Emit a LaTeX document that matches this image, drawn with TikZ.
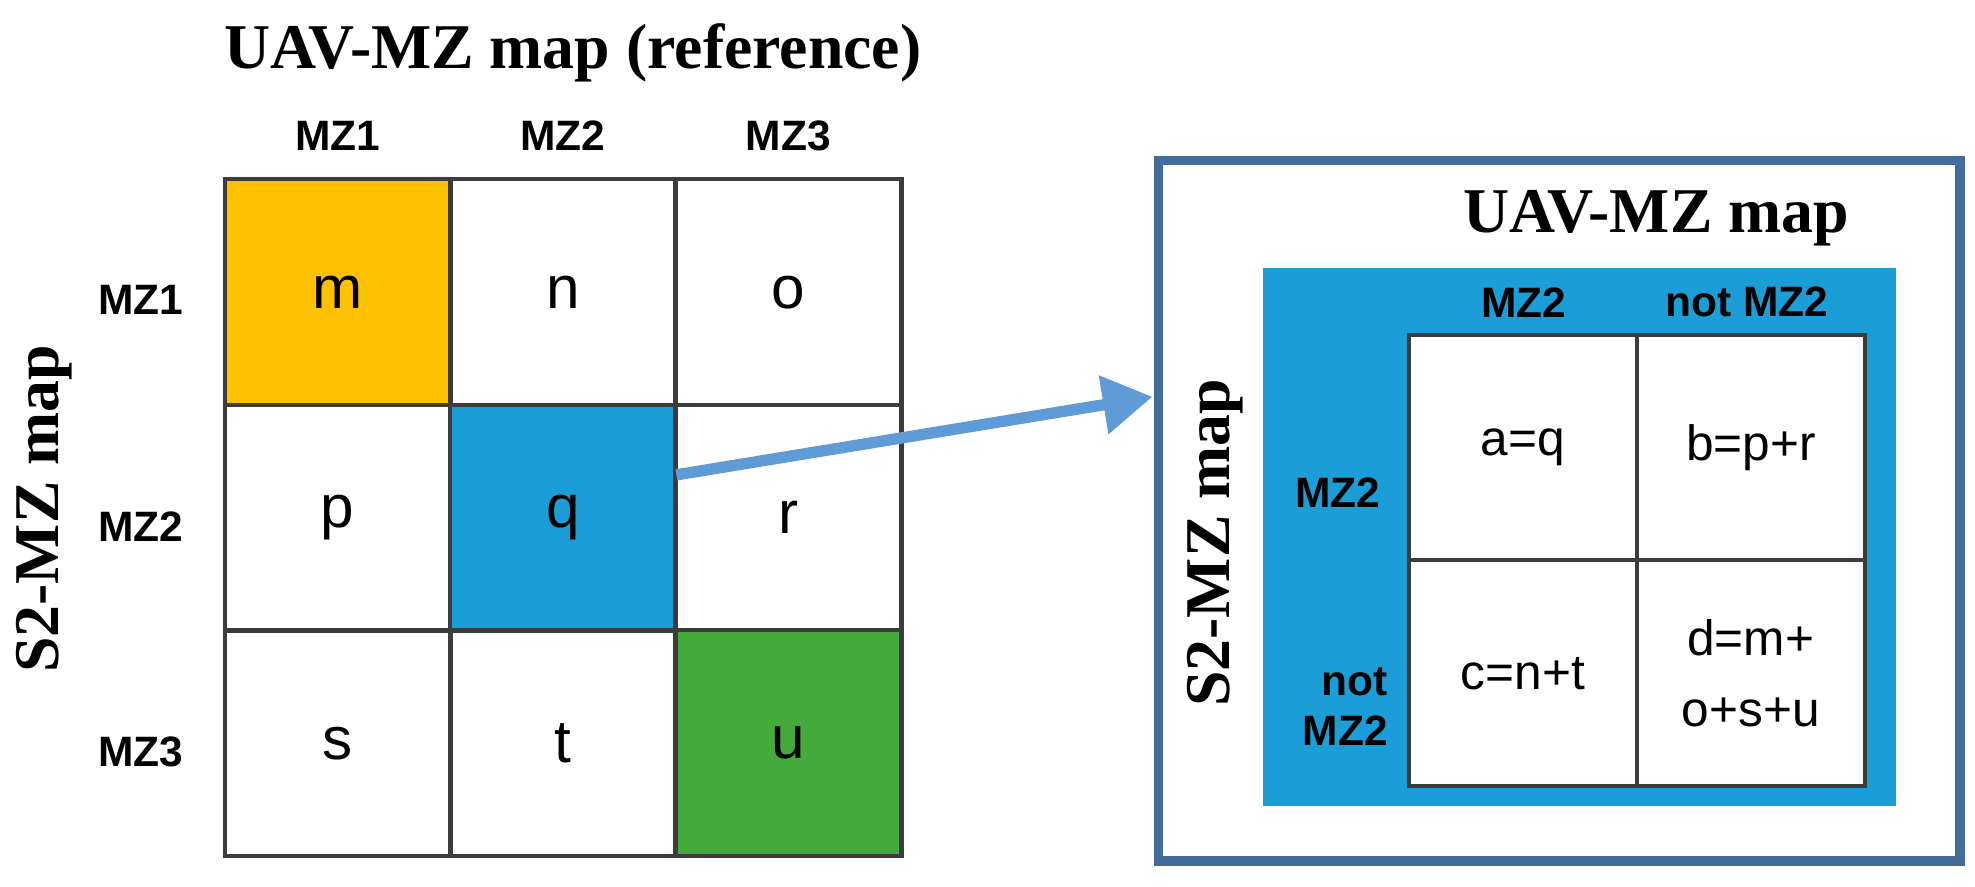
\documentclass[tikz,border=0pt]{standalone}
\usepackage{fontspec}
\setmainfont{Liberation Serif}
\setsansfont{Liberation Sans}
\usepackage{tikz}
\usetikzlibrary{positioning,arrows.meta}
\definecolor{mzorange}{RGB}{255,192,0}
\definecolor{mzblue}{RGB}{27,157,215}
\definecolor{mzgreen}{RGB}{68,170,60}
\definecolor{boxblue}{RGB}{68,108,155}
\definecolor{arrowblue}{RGB}{95,155,215}
\definecolor{gridgray}{RGB}{60,60,60}
\tikzset{
  cell/.style={draw=gridgray,line width=1.2pt,minimum width=2.24cm,minimum height=2.24cm,inner sep=0pt,font=\sffamily\fontsize{17}{20}\selectfont},
  small cell/.style={draw=gridgray,line width=1.2pt,minimum width=2.26cm,minimum height=2.24cm,inner sep=0pt,align=center,font=\sffamily\fontsize{14}{20}\selectfont},
  head/.style={font=\sffamily\bfseries\fontsize{12}{14}\selectfont,align=right},
  title/.style={font=\bfseries\fontsize{18}{20}\selectfont}
}
\begin{document}
\begin{tikzpicture}[x=0.0125cm,y=-0.0125cm]
\useasboundingbox (0,0) rectangle (1568,704);

% left map
\node[title] (lefttitle) at (455,42) {UAV-MZ map (reference)};
\node[head] (c1) at (268,108) {MZ1};
\node[head] (c2) at (447,108) {MZ2};
\node[head] (c3) at (626,108) {MZ3};
\node[head] (r1) at (112,238) {MZ1};
\node[head] (r2) at (112,418) {MZ2};
\node[head] (r3) at (112,597) {MZ3};
\node[title,rotate=90] (leftside) at (35,404) {S2-MZ map};

\node[cell,fill=mzorange] (m) at (268,232) {m};
\node[cell] (n) at (447,232) {n};
\node[cell] (o) at (626,232) {o};
\node[cell] (p) at (268,411) {p};
\node[cell,fill=mzblue] (q) at (447,411) {q};
\node[cell] (r) at (626,411) {r};
\node[cell] (s) at (268,590) {s};
\node[cell] (t) at (447,590) {t};
\node[cell,fill=mzgreen] (u) at (626,590) {u};

% right map
\node[draw=boxblue,line width=2.6pt,minimum width=7.95cm,minimum height=6.95cm,inner sep=0pt] (outer) at (1238,405.5) {};
\node[title] (righttitle) at (1315,173) {UAV-MZ map};
\node[fill=mzblue,minimum width=6.28cm,minimum height=5.34cm,inner sep=0pt] (bluebox) at (1254,426.5) {};
\node[head] (h1) at (1210,240) {MZ2};
\node[head] (h2) at (1387,240) {not MZ2};
\node[head] (v1) at (1062,391) {MZ2};
\node[head] (v2) at (1068,561) {not\\MZ2};
\node[title,rotate=90] (rightside) at (965,431) {S2-MZ map};

\node[small cell,fill=white] (a) at (1209,355.5) {a=q};
\node[small cell,fill=white] (b) at (1390,355.5) {b=p+r};
\node[small cell,fill=white] (c) at (1209,534.5) {c=n+t};
\node[small cell,fill=white] (d) at (1390,534.5) {d=m+\\o+s+u};

% arrow
\coordinate (arrowstart) at (537,377);
\coordinate (arrowend) at (915,315);
\draw[arrowblue,line width=3.2pt,-{Triangle[length=14pt,width=16pt]}] (arrowstart) -- (arrowend);
\end{tikzpicture}
\end{document}
